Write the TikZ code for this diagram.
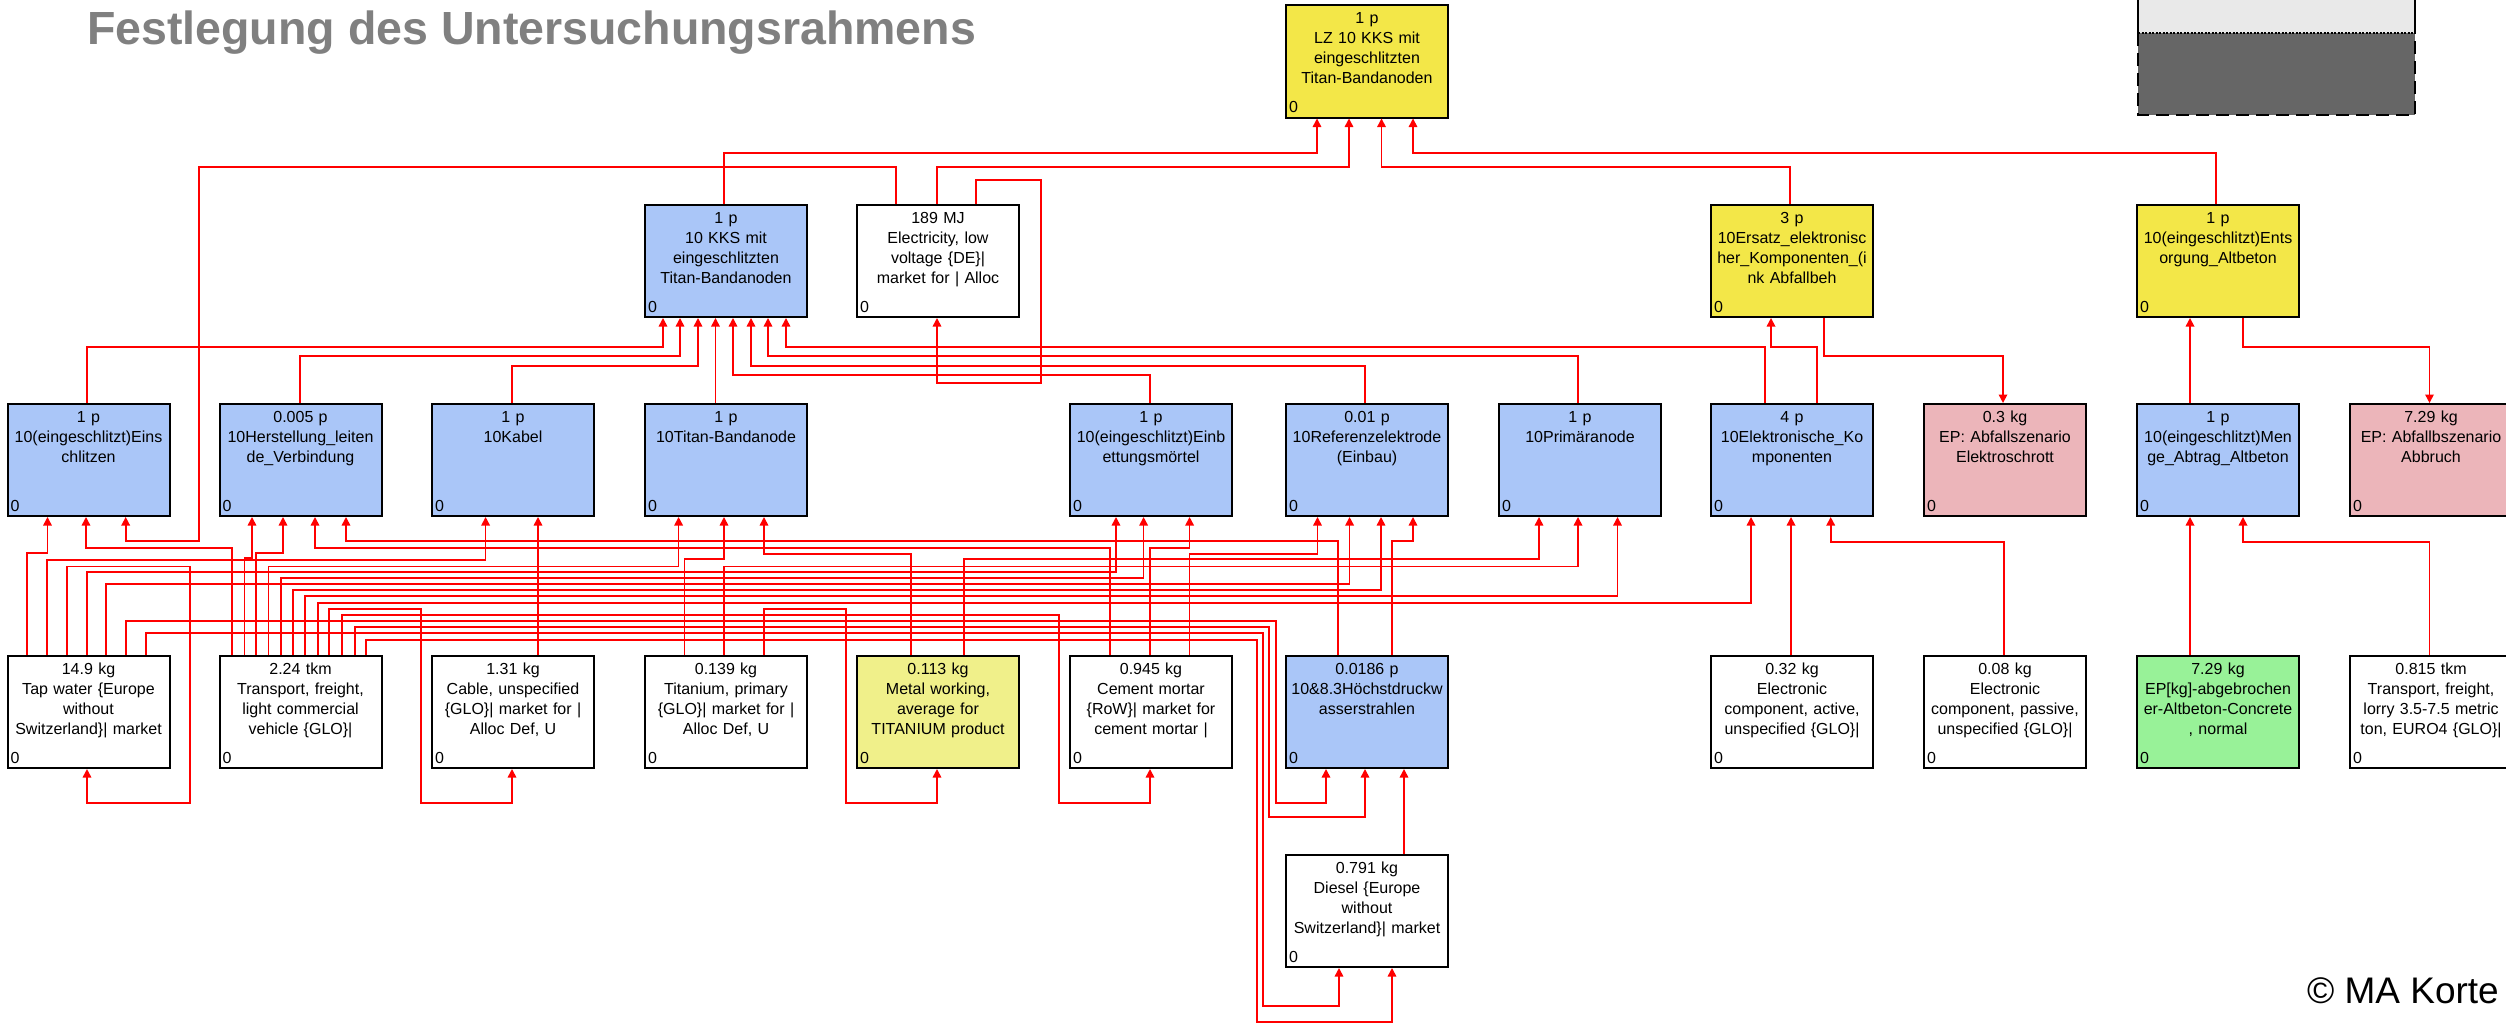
\documentclass[tikz,border=0pt]{standalone}
\usepackage{fontspec}
\setmainfont{Liberation Sans}
\usetikzlibrary{arrows.meta,calc}
\definecolor{pyellow}{RGB}{243,231,72}
\definecolor{pblue}{RGB}{170,198,248}
\definecolor{ppink}{RGB}{236,181,186}
\definecolor{pgreen}{RGB}{152,242,152}
\definecolor{pmetal}{RGB}{240,240,138}
\definecolor{ptitle}{RGB}{128,128,128}
\definecolor{lgl}{RGB}{233,233,233}
\definecolor{lgd}{RGB}{102,102,102}
\newcommand\pbox[5]{%
  \node[pbase,fill=#4] (#1) at (#2,#3) {};
  \node[ptext] (#1-t) at ([yshift=-8pt]#1.north) {#5};
  \node[pzero] (#1-z) at ([xshift=4pt,yshift=6pt]#1.south west) {0};
}
% up: src, src x, bend y, dst, dst x
\newcommand\wup[5]{\draw[wire] (#2,0 |- #1.north) |- (#5,#3) -- (#5,0 |- #4.south);}
\newcommand\wdown[5]{\draw[wire] (#2,0 |- #1.south) |- (#5,#3) -- (#5,0 |- #4.north);}
\newcommand\wstraight[3]{\draw[wire] (#3,0 |- #1.north) -- (#3,0 |- #2.south);}
% loop: src, src x, y1, vx, y2, dst, dst x
\newcommand\wloop[7]{\draw[wire] (#2,0 |- #1.north) |- (#4,#3) |- (#7,#5) -- (#7,0 |- #6.south);}
\begin{document}
\begin{tikzpicture}[x=1pt,y=-1pt,
  pbase/.style={draw=black, line width=2pt, minimum width=162pt, minimum height=112pt, inner sep=0pt},
  ptext/.style={anchor=north, text width=160pt, align=center, inner sep=0pt, font=\fontsize{16}{20}\selectfont},
  pzero/.style={anchor=base west, inner sep=0pt, font=\fontsize{16}{20}\selectfont},
  wire/.style={draw=red, line width=1.6pt, -{Triangle[width=8.5pt,length=8.5pt]}}]
\useasboundingbox (0,0) rectangle (2506,1025);
\fill[white] (0,0) rectangle (2506,1025);
\clip (0,0) rectangle (2506,1025);

\node[anchor=base west, text=ptitle, font=\bfseries\fontsize{46.5}{50}\selectfont, inner sep=0pt] (title) at (87,45) {Festlegung des Untersuchungsrahmens};

% legend
\fill[lgl] (2138,-2) rectangle (2415,33);
\fill[lgd] (2138,33) rectangle (2415,115);
\draw[line width=1.2pt] (2138,-2) -- (2138,33) (2415,-2) -- (2415,33);
\draw[line width=1.5pt, dash pattern=on 2pt off 1.5pt] (2138,33) -- (2415,33);
\draw[line width=1.5pt, dash pattern=on 13pt off 7pt] (2138,33) -- (2138,115) -- (2415,115) -- (2415,33);

% row 0
\pbox{lz}{1367}{61.5}{pyellow}{1 p\\LZ 10 KKS mit\\eingeschlitzten\\Titan-Bandanoden}
% row 1
\pbox{kks}{726}{261}{pblue}{1 p\\10 KKS mit\\eingeschlitzten\\Titan-Bandanoden}
\pbox{elec}{938}{261}{white}{189 MJ\\Electricity, low\\voltage \{DE\}|\\market for | Alloc}
\pbox{ersatz}{1792}{261}{pyellow}{3 p\\10Ersatz\_elektronisc\\her\_Komponenten\_(i\\nk Abfallbeh}
\pbox{entsorg}{2218}{261}{pyellow}{1 p\\10(eingeschlitzt)Ents\\orgung\_Altbeton}
% row 2
\pbox{ein}{88.5}{460}{pblue}{1 p\\10(eingeschlitzt)Eins\\chlitzen}
\pbox{her}{300.5}{460}{pblue}{0.005 p\\10Herstellung\_leiten\\de\_Verbindung}
\pbox{kab}{513}{460}{pblue}{1 p\\10Kabel}
\pbox{tba}{726}{460}{pblue}{1 p\\10Titan-Bandanode}
\pbox{einb}{1151}{460}{pblue}{1 p\\10(eingeschlitzt)Einb\\ettungsmörtel}
\pbox{ref}{1367}{460}{pblue}{0.01 p\\10Referenzelektrode\\(Einbau)}
\pbox{prim}{1580}{460}{pblue}{1 p\\10Primäranode}
\pbox{elk}{1792}{460}{pblue}{4 p\\10Elektronische\_Ko\\mponenten}
\pbox{schrott}{2005}{460}{ppink}{0.3 kg\\EP: Abfallszenario\\Elektroschrott}
\pbox{menge}{2218}{460}{pblue}{1 p\\10(eingeschlitzt)Men\\ge\_Abtrag\_Altbeton}
\pbox{abbruch}{2431}{460}{ppink}{7.29 kg\\EP: Abfallbszenario\\Abbruch}
% row 3
\pbox{tap}{88.5}{712}{white}{14.9 kg\\Tap water \{Europe\\without\\Switzerland\}| market}
\pbox{tport}{300.5}{712}{white}{2.24 tkm\\Transport, freight,\\light commercial\\vehicle \{GLO\}|}
\pbox{cable}{513}{712}{white}{1.31 kg\\Cable, unspecified\\\{GLO\}| market for |\\Alloc Def, U}
\pbox{titan}{726}{712}{white}{0.139 kg\\Titanium, primary\\\{GLO\}| market for |\\Alloc Def, U}
\pbox{metal}{938}{712}{pmetal}{0.113 kg\\Metal working,\\average for\\TITANIUM product}
\pbox{cement}{1151}{712}{white}{0.945 kg\\Cement mortar\\\{RoW\}| market for\\cement mortar |}
\pbox{hoech}{1367}{712}{pblue}{0.0186 p\\10\&8.3Höchstdruckw\\asserstrahlen}
\pbox{active}{1792}{712}{white}{0.32 kg\\Electronic\\component, active,\\unspecified \{GLO\}|}
\pbox{passive}{2005}{712}{white}{0.08 kg\\Electronic\\component, passive,\\unspecified \{GLO\}|}
\pbox{green}{2218}{712}{pgreen}{7.29 kg\\EP[kg]-abgebrochen\\er-Altbeton-Concrete\\, normal}
\pbox{lorry}{2431}{712}{white}{0.815 tkm\\Transport, freight,\\lorry 3.5-7.5 metric\\ton, EURO4 \{GLO\}|}
% row 4
\pbox{diesel}{1367}{911}{white}{0.791 kg\\Diesel \{Europe\\without\\Switzerland\}| market}

% wires into LZ
\wup{kks}{724}{153}{lz}{1317}
\wup{elec}{937}{167}{lz}{1349}
\wup{ersatz}{1790}{167}{lz}{1381.5}
\wup{entsorg}{2216}{153}{lz}{1413}
% into 10 KKS
\wup{ein}{87}{347}{kks}{663}
\wup{her}{300}{356}{kks}{680}
\wup{kab}{512}{366}{kks}{698}
\wstraight{tba}{kks}{715.5}
\wup{einb}{1150}{375}{kks}{733}
\wup{ref}{1365}{366}{kks}{751}
\wup{prim}{1578}{356}{kks}{768}
\wup{elk}{1765}{347}{kks}{786}
% electricity
\wloop{elec}{976}{180}{1041}{383}{elec}{937}
\wloop{elec}{896}{167}{199}{541}{ein}{125.7}
% Ersatz / Entsorgung
\wup{elk}{1817}{347}{ersatz}{1771}
\wdown{ersatz}{1824}{356}{schrott}{2003}
\wstraight{menge}{entsorg}{2190}
\wdown{entsorg}{2243}{347}{abbruch}{2429.5}
\wstraight{green}{menge}{2190}
\wup{lorry}{2429.5}{542}{menge}{2243}
% Elektronische Komponenten
\wup{tport}{318}{603}{elk}{1751}
\wstraight{active}{elk}{1791}
\wup{passive}{2004}{542}{elk}{1830.7}
% Einschlitzen
\wup{tap}{27}{553}{ein}{47.5}
\wup{tport}{232}{548}{ein}{86}
% Herstellung
\wup{tport}{244.6}{558}{her}{252}
\wup{tport}{256}{553}{her}{283}
\wup{cement}{1110}{548}{her}{315}
\wup{hoech}{1338}{541}{her}{346}
% Kabel
\wup{tap}{47}{560}{kab}{485.6}
\wstraight{cable}{kab}{538}
% Titan-Bandanode
\wup{tport}{268.6}{566.5}{tba}{678.6}
\wup{titan}{684.6}{559}{tba}{724}
\wup{metal}{911}{554}{tba}{764}
% Einbettungsmoertel
\wup{tap}{87}{572}{einb}{1116}
\wup{tport}{281}{578}{einb}{1143.6}
\wup{cement}{1150}{548}{einb}{1189.6}
% Referenzelektrode
\wup{cement}{1189.6}{554}{ref}{1317.5}
\wup{tap}{106}{584}{ref}{1349.6}
\wup{tport}{293}{590}{ref}{1381}
\wup{hoech}{1392}{541}{ref}{1413}
% Primaeranode
\wup{metal}{964}{559}{prim}{1539}
\wup{titan}{724}{566.5}{prim}{1578}
\wup{tport}{305}{596}{prim}{1617.5}
% loops into lower row
\wloop{tap}{67}{566.5}{190}{803}{tap}{87}
\wloop{tport}{329}{609}{421}{803}{cable}{512}
\wloop{titan}{764}{609}{846}{803}{metal}{937}
\wloop{tport}{342}{615}{1059}{803}{cement}{1150}
\wloop{tap}{126}{621}{1276}{803}{hoech}{1326}
\wloop{tport}{355}{627}{1269}{817}{hoech}{1365}
\wloop{tap}{146}{633}{1263}{1006}{diesel}{1339}
\wloop{tport}{366}{640}{1257}{1022}{diesel}{1392}
\wstraight{diesel}{hoech}{1404}

\node[anchor=base east, font=\fontsize{37}{40}\selectfont, inner sep=0pt] (copy) at (2499,1003) {© MA Korte};
\end{tikzpicture}
\end{document}
